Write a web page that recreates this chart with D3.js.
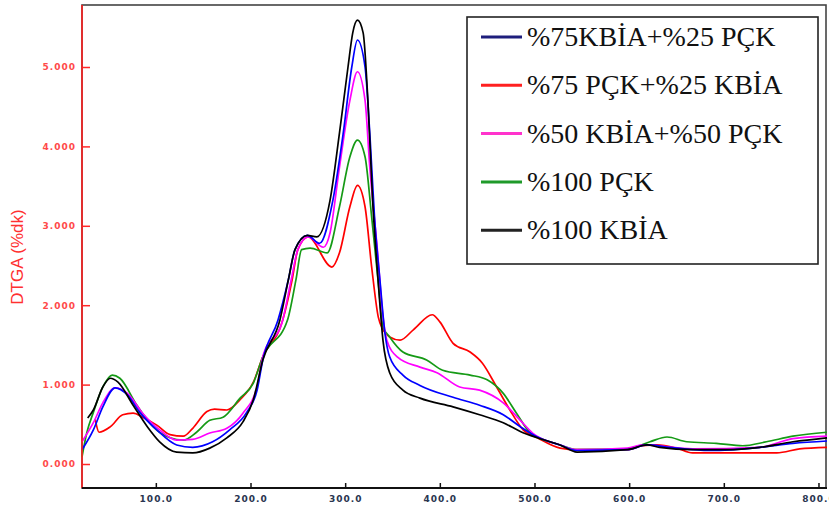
<!DOCTYPE html>
<html>
<head>
<meta charset="utf-8">
<script src="https://cdnjs.cloudflare.com/ajax/libs/d3/7.8.5/d3.min.js"></script>
<style>
  body { margin: 0; background: #fff; }
  svg { display: block; }
</style>
</head>
<body>
<svg class="chart" width="829" height="511"></svg>
<script>
// temperature (°C), DTGA (%/dk)
const kbia75pck25 = [
  [22, 0.18], [34, 0.43], [44, 0.72], [57, 0.96], [70, 0.87], [83, 0.65], [101, 0.43],
  [122, 0.24], [139, 0.21], [160, 0.28], [178, 0.43], [196, 0.65], [207, 0.93], [213, 1.31],
  [229, 1.81], [240, 2.32], [247, 2.70], [260, 2.88], [273, 2.78], [287, 3.32], [298, 4.17],
  [307, 5.0], [313, 5.34], [321, 5.0], [326, 4.17], [331, 3.11], [337, 2.28], [342, 1.65],
  [347, 1.35], [361, 1.12], [379, 0.99], [414, 0.84], [442, 0.74], [467, 0.62], [485, 0.47],
  [503, 0.34], [527, 0.24], [545, 0.17], [598, 0.18], [619, 0.24], [643, 0.21], [685, 0.17],
  [738, 0.21], [773, 0.26], [809, 0.29]
];
const pck75kbia25 = [
  [36, 0.56], [40, 0.40], [52, 0.47], [65, 0.62], [76, 0.64], [86, 0.59], [101, 0.49],
  [115, 0.37], [129, 0.35], [139, 0.45], [154, 0.66], [162, 0.69], [175, 0.68], [189, 0.81],
  [203, 1.03], [213, 1.35], [234, 1.81], [244, 2.32], [250, 2.70], [261, 2.86], [286, 2.48],
  [294, 2.66], [305, 3.24], [313, 3.51], [321, 3.24], [328, 2.48], [335, 1.85], [340, 1.69],
  [347, 1.60], [358, 1.56], [372, 1.69], [392, 1.88], [400, 1.79], [414, 1.52], [432, 1.41],
  [445, 1.27], [460, 0.97], [474, 0.68], [488, 0.43], [503, 0.33], [527, 0.20], [545, 0.18],
  [598, 0.18], [614, 0.23], [629, 0.24], [650, 0.20], [667, 0.14], [756, 0.14], [780, 0.19],
  [809, 0.21]
];
const kbia50pck50 = [
  [22, 0.28], [34, 0.52], [44, 0.77], [57, 0.96], [70, 0.89], [86, 0.64], [104, 0.43],
  [122, 0.30], [139, 0.31], [157, 0.39], [175, 0.45], [192, 0.64], [207, 0.97], [213, 1.35],
  [234, 1.81], [243, 2.32], [250, 2.70], [261, 2.86], [277, 2.73], [284, 2.91], [294, 3.74],
  [305, 4.58], [313, 4.94], [321, 4.58], [326, 3.74], [334, 2.70], [340, 1.85], [344, 1.56],
  [355, 1.35], [379, 1.22], [397, 1.15], [421, 0.97], [442, 0.93], [467, 0.77], [485, 0.55],
  [498, 0.39], [527, 0.24], [545, 0.18], [598, 0.20], [614, 0.24], [667, 0.19], [738, 0.21],
  [773, 0.32], [809, 0.35]
];
const pck100 = [
  [22, 0.09], [27, 0.39], [34, 0.65], [44, 0.97], [54, 1.12], [62, 1.08], [80, 0.74],
  [97, 0.47], [115, 0.33], [129, 0.30], [143, 0.40], [157, 0.55], [171, 0.59], [189, 0.83],
  [203, 1.02], [213, 1.35], [239, 1.81], [248, 2.32], [254, 2.70], [263, 2.72], [281, 2.66],
  [294, 3.24], [305, 3.87], [313, 4.08], [321, 3.87], [328, 3.11], [335, 2.28], [340, 1.73],
  [347, 1.60], [361, 1.41], [386, 1.31], [403, 1.18], [432, 1.12], [450, 1.06], [467, 0.89],
  [481, 0.64], [495, 0.40], [527, 0.24], [545, 0.18], [598, 0.19], [622, 0.28], [640, 0.34],
  [661, 0.28], [692, 0.26], [720, 0.23], [745, 0.28], [773, 0.35], [809, 0.40]
];
const kbia100 = [
  [28, 0.58], [34, 0.68], [44, 0.97], [52, 1.08], [60, 1.03], [76, 0.74], [91, 0.47],
  [104, 0.28], [122, 0.15], [139, 0.14], [157, 0.20], [175, 0.33], [192, 0.53], [203, 0.81],
  [213, 1.31], [231, 1.81], [240, 2.32], [247, 2.70], [260, 2.88], [270, 2.86], [284, 3.32],
  [294, 4.17], [303, 5.0], [308, 5.43], [313, 5.59], [319, 5.43], [324, 4.58], [329, 3.32],
  [335, 2.28], [340, 1.55], [347, 1.15], [361, 0.93], [379, 0.83], [414, 0.72], [442, 0.62],
  [467, 0.52], [485, 0.41], [503, 0.33], [527, 0.24], [545, 0.15], [598, 0.18], [619, 0.24],
  [632, 0.21], [667, 0.18], [703, 0.18], [738, 0.21], [773, 0.28], [809, 0.33]
];

const seriesNames = ['%75KBİA+%25 PÇK', '%75 PÇK+%25 KBİA', '%50 KBİA+%50 PÇK', '%100 PÇK', '%100 KBİA'];
const seriesData = [kbia75pck25, pck75kbia25, kbia50pck50, pck100, kbia100];
const lineColors = ['#0000ff', '#ff0000', '#ff00ff', '#159a15', '#000000'];
const legendColors = ['#1e1e7c', '#ff2020', '#ff33cc', '#1f9a2a', '#222222'];
const yTicks = [0, 1, 2, 3, 4, 5];
const xTicks = [100, 200, 300, 400, 500, 600, 700, 800];

const frame = { left: 82, top: 5, right: 826, bottom: 488 };
const svg = d3.select('.chart');

const x = d3.scaleLinear().domain([22, 809]).range([82, 827]);
const y = d3.scaleLinear().domain([0, 5]).range([464, 67]);

svg.append('rect')
  .attr('x', frame.left).attr('y', frame.top)
  .attr('width', frame.right - frame.left).attr('height', frame.bottom - frame.top)
  .attr('fill', '#fff').attr('stroke', '#444').attr('stroke-width', 1.6);

const line = d3.line()
  .x(d => x(d[0]))
  .y(d => y(d[1]))
  .curve(d3.curveMonotoneX);

// draw order: red, green, magenta, blue, black on top
[1, 3, 2, 0, 4].forEach(i => {
  svg.append('path')
    .datum(seriesData[i])
    .attr('fill', 'none')
    .attr('stroke', lineColors[i])
    .attr('stroke-width', 1.7)
    .attr('d', line);
});

// y axis (red)
const yAxis = d3.axisLeft(y)
  .tickValues(yTicks)
  .tickFormat(d3.format('.3f'))
  .tickSize(-8)
  .tickPadding(6);
const yG = svg.append('g')
  .attr('transform', `translate(${frame.left},0)`)
  .call(yAxis);
yG.select('.domain').remove();
yG.selectAll('line').attr('stroke', '#ff2a2a').attr('stroke-width', 1.5);
yG.selectAll('text')
  .attr('fill', '#ff4a4a')
  .style('font', 'bold 9px "DejaVu Sans", sans-serif')
  .style('letter-spacing', '1px');

svg.append('line')
  .attr('x1', frame.left).attr('x2', frame.left)
  .attr('y1', frame.top).attr('y2', frame.bottom)
  .attr('stroke', '#ff2020').attr('stroke-width', 1.6);

// x axis
const xAxis = d3.axisBottom(x)
  .tickValues(xTicks)
  .tickFormat(d3.format('.1f'))
  .tickSize(-5)
  .tickPadding(8);
const xG = svg.append('g')
  .attr('transform', `translate(0,${frame.bottom})`)
  .call(xAxis);
xG.select('.domain').remove();
xG.selectAll('line').attr('stroke', '#111').attr('stroke-width', 1.5);
xG.selectAll('text')
  .attr('fill', '#2a3550')
  .style('font', 'bold 9px "DejaVu Sans", sans-serif')
  .style('letter-spacing', '1px');

svg.append('line')
  .attr('x1', frame.left).attr('x2', frame.right + 1)
  .attr('y1', frame.bottom).attr('y2', frame.bottom)
  .attr('stroke', '#111').attr('stroke-width', 2.2);

svg.append('text')
  .attr('transform', 'translate(23,257) rotate(-90)')
  .attr('text-anchor', 'middle')
  .attr('fill', '#ff3030')
  .style('font', '17px "Liberation Sans", Arial, sans-serif')
  .text('DTGA (%dk)');

// legend
const legend = svg.append('g');
legend.append('rect')
  .attr('x', 467).attr('y', 17)
  .attr('width', 351).attr('height', 247)
  .attr('fill', '#fff').attr('stroke', '#222').attr('stroke-width', 1.6);

seriesNames.forEach((name, i) => {
  const cy = 37 + i * 48.3;
  legend.append('line')
    .attr('x1', 481).attr('x2', 522)
    .attr('y1', cy).attr('y2', cy)
    .attr('stroke', legendColors[i]).attr('stroke-width', 3);
  legend.append('text')
    .attr('x', 527).attr('y', cy + 9)
    .attr('fill', '#111')
    .style('font', '28px "Liberation Serif", "Times New Roman", serif')
    .text(name);
});
</script>
</body>
</html>
